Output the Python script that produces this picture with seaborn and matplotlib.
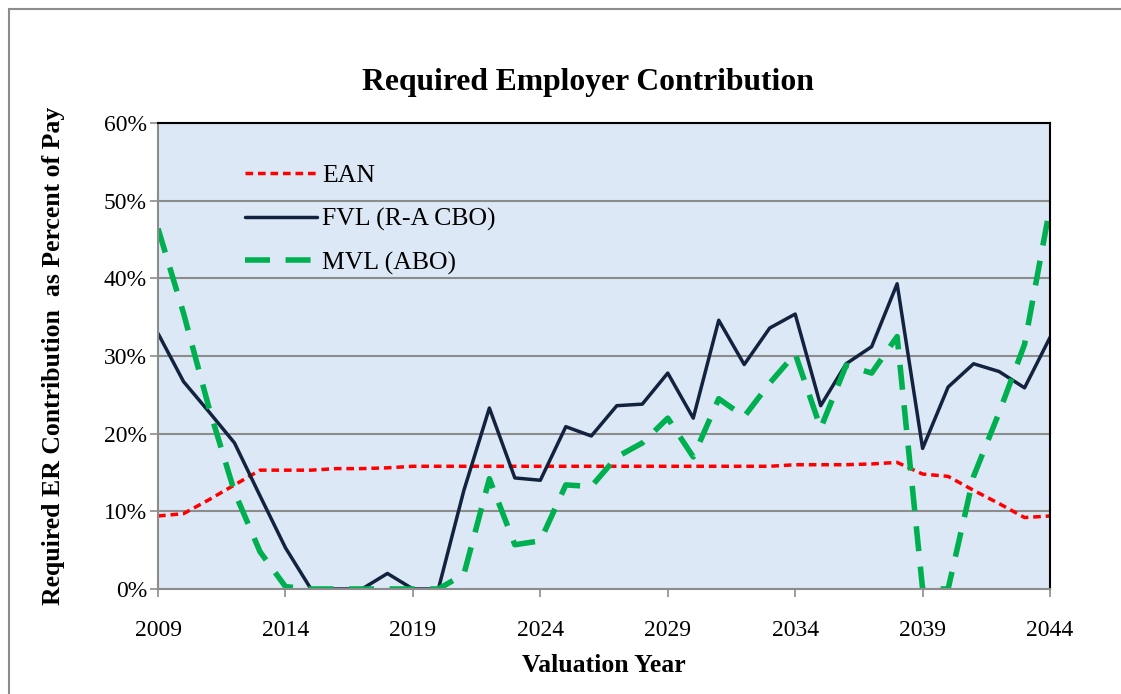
import pandas as pd
import matplotlib.pyplot as plt
import seaborn as sns
from matplotlib.ticker import PercentFormatter, MultipleLocator
from matplotlib.patches import Rectangle

# === DATA ===
years = list(range(2009, 2045))
ean = [9.4, 9.7, 11.5, 13.4, 15.3, 15.3, 15.3, 15.5, 15.5, 15.6, 15.8, 15.8,
       15.8, 15.8, 15.8, 15.8, 15.8, 15.8, 15.8, 15.8, 15.8, 15.8, 15.8, 15.8,
       15.8, 16.0, 16.0, 16.0, 16.1, 16.3, 14.8, 14.5, 12.7, 11.0, 9.2, 9.4]
fvl = [32.9, 26.7, 22.8, 18.8, 12.0, 5.3, 0.0, 0.0, 0.0, 2.0, 0.0, 0.0,
       12.7, 23.3, 14.3, 14.0, 20.9, 19.7, 23.6, 23.8, 27.8, 22.0, 34.6, 28.9,
       33.6, 35.4, 23.6, 29.0, 31.2, 39.3, 18.1, 26.0, 29.0, 28.0, 25.9, 32.4]
mvl = [46.4, 35.5, 23.3, 12.5, 4.8, 0.3, 0.0, 0.0, 0.0, 0.0, 0.0, 0.0,
       1.9, 14.2, 5.7, 6.2, 13.4, 13.2, 17.0, 18.8, 22.0, 17.0, 24.5, 22.2,
       26.5, 30.3, 20.7, 28.8, 27.8, 32.5, 0.0, 0.0, 14.5, 22.7, 31.5, 49.2]
labels = ['EAN', 'FVL (R-A CBO)', 'MVL (ABO)']
xticks = [2009, 2014, 2019, 2024, 2029, 2034, 2039, 2044]

df = pd.DataFrame({'Year': years, labels[0]: ean, labels[1]: fvl, labels[2]: mvl})
long_df = df.melt(id_vars='Year', var_name='Method', value_name='Rate')

# === STYLE ===
sns.set_style('white')
plt.rcParams['font.family'] = ['Liberation Serif', 'DejaVu Serif']
plt.rcParams['text.color'] = 'black'
plt.rcParams['axes.labelcolor'] = 'black'
plt.rcParams['xtick.labelcolor'] = 'black'
plt.rcParams['ytick.labelcolor'] = 'black'

fig = plt.figure(figsize=(11.21, 6.94), dpi=100)
ax = fig.add_axes([0.141, 0.1513, 0.7957, 0.6715])
ax.set_facecolor('#dce8f5')

colors = {labels[0]: '#ff0000', labels[1]: '#13233f', labels[2]: '#00b050'}
widths = {labels[0]: 2.5, labels[1]: 2.5, labels[2]: 4.0}
dashes = {labels[0]: (2.2, 1.4), labels[1]: '', labels[2]: (4.5, 2.8)}

for name in labels:
    sub = long_df[long_df['Method'] == name]
    sns.lineplot(data=sub, x='Year', y='Rate', ax=ax, color=colors[name],
                 linewidth=widths[name], label=name)
    ln = ax.get_lines()[-1]
    if dashes[name]:
        ln.set_dashes(dashes[name])

# === AXES ===
ax.set_xlim(2009, 2044)
ax.set_ylim(0, 60)
ax.set_xticks(xticks)
ax.yaxis.set_major_locator(MultipleLocator(10))
ax.yaxis.set_major_formatter(PercentFormatter(decimals=0))
ax.grid(axis='y', color='#8c8c8c', linewidth=1.5)
ax.set_axisbelow(True)
ax.tick_params(axis='both', labelsize=17, direction='out', length=6, width=1.2,
               color='#8c8c8c', labelcolor='black', bottom=True, left=True)
ax.tick_params(axis='x', pad=16)
ax.tick_params(axis='y', pad=2)
for side in ['left', 'bottom']:
    ax.spines[side].set_color('#8c8c8c')
    ax.spines[side].set_linewidth(1.5)
for side in ['top', 'right']:
    ax.spines[side].set_color('black')
    ax.spines[side].set_linewidth(1.5)

ax.set_xlabel('Valuation Year', fontsize=18.5, fontweight='bold', labelpad=10)
ax.set_ylabel('Required ER Contribution  as Percent of Pay', fontsize=18.5,
              fontweight='bold', labelpad=28)
ax.set_title('Required Employer Contribution', fontsize=22.8, fontweight='bold',
             pad=24, x=0.482, color='black')

# legend
leg = ax.legend(loc='upper left', bbox_to_anchor=(0.0975, 0.912), frameon=False,
                fontsize=18.5, handlelength=2.8, handletextpad=0.2, labelspacing=0.8,
                borderaxespad=0, borderpad=0, labelcolor='black')

# outer chart border
fig.patches.append(Rectangle((0.008, -0.01), 1.1, 0.997, transform=fig.transFigure,
                             fill=False, edgecolor='#8c8c8c', linewidth=1.5))

plt.savefig('out.png', dpi=100)
